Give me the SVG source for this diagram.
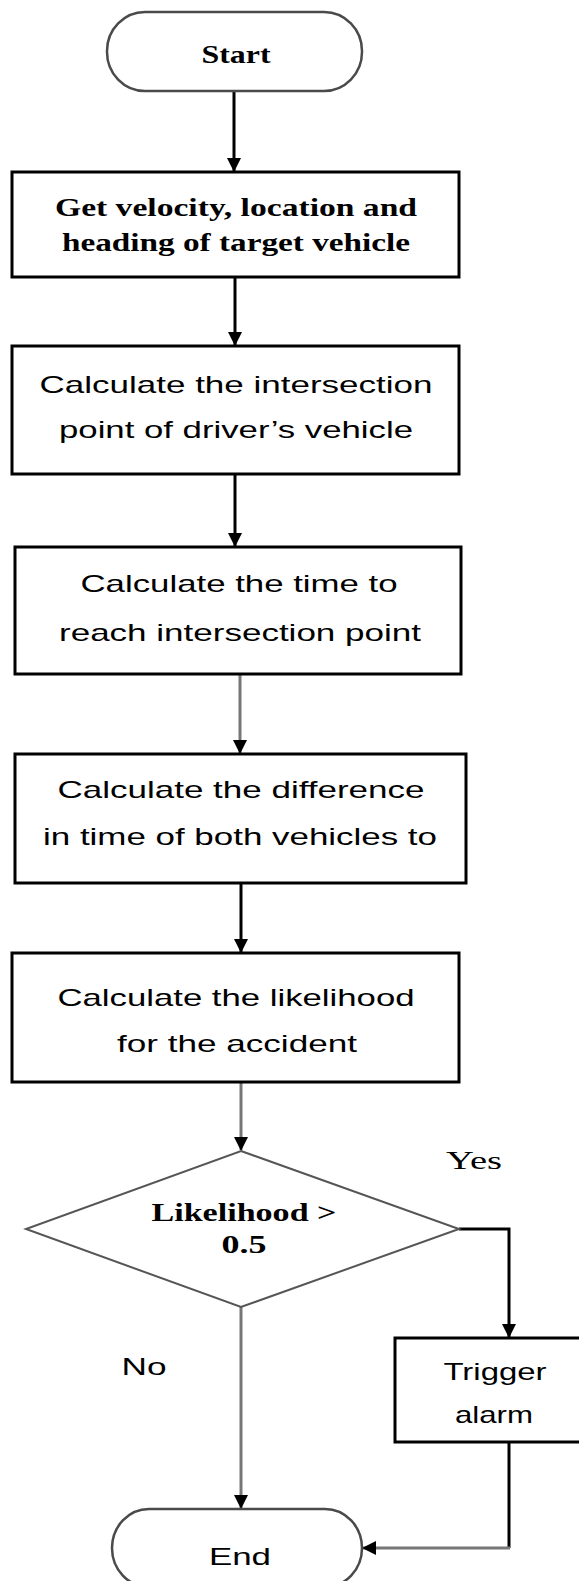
<svg xmlns="http://www.w3.org/2000/svg" width="579" height="1581" viewBox="0 0 579 1581">
<style>
.box{fill:#fff;stroke:#000;stroke-width:3}
.term{fill:#fff;stroke:#4a4a4a;stroke-width:2.5}
.dia{fill:#fff;stroke:#555;stroke-width:2}
.serif{font-family:"Liberation Serif","Times New Roman",serif;font-weight:bold;font-size:25px;fill:#000}
.sans{font-family:"Liberation Sans",Arial,sans-serif;font-size:24px;fill:#000}
.c{fill:none;stroke-width:3}
.k{stroke:#000}
.g{stroke:#777}
</style>
<defs>
<marker id="ah" markerUnits="userSpaceOnUse" markerWidth="14" markerHeight="14" refX="13" refY="7" orient="auto">
<path d="M0,0 L14,7 L0,14 z" fill="#000"/>
</marker>
</defs>
<g id="connectors">
<path class="c k" d="M234,91 V171" marker-end="url(#ah)"/>
<path class="c k" d="M235,277 V345" marker-end="url(#ah)"/>
<path class="c k" d="M235,474 V546" marker-end="url(#ah)"/>
<path class="c g" d="M240,674 V753" marker-end="url(#ah)"/>
<path class="c k" d="M241,883 V952" marker-end="url(#ah)"/>
<path class="c g" d="M241,1082 V1150" marker-end="url(#ah)"/>
<path class="c k" d="M459,1229 H509 V1337" marker-end="url(#ah)"/>
<path class="c g" d="M241,1307 V1508" marker-end="url(#ah)"/>
<path class="c k" d="M509,1442 V1548"/>
<path class="c g" d="M510,1548 H363" marker-end="url(#ah)"/>
</g>
<g id="start">
<rect class="term" x="107" y="12" width="255" height="79" rx="38" ry="39"/>
<text class="serif" x="236" y="63" text-anchor="middle" textLength="69" lengthAdjust="spacingAndGlyphs">Start</text>
</g>
<g id="get-data">
<rect class="box" x="12" y="172" width="447" height="105"/>
<text class="serif" x="236" y="216" text-anchor="middle" textLength="362" lengthAdjust="spacingAndGlyphs">Get velocity, location and</text>
<text class="serif" x="236" y="251" text-anchor="middle" textLength="348" lengthAdjust="spacingAndGlyphs">heading of target vehicle</text>
</g>
<g id="calc-intersection">
<rect class="box" x="12" y="346" width="447" height="128"/>
<text class="sans" x="236" y="393" text-anchor="middle" textLength="393" lengthAdjust="spacingAndGlyphs">Calculate the intersection</text>
<text class="sans" x="236" y="438" text-anchor="middle" textLength="354" lengthAdjust="spacingAndGlyphs">point of driver’s vehicle</text>
</g>
<g id="calc-time">
<rect class="box" x="15" y="547" width="446" height="127"/>
<text class="sans" x="239" y="592" text-anchor="middle" textLength="317" lengthAdjust="spacingAndGlyphs">Calculate the time to</text>
<text class="sans" x="240" y="641" text-anchor="middle" textLength="362" lengthAdjust="spacingAndGlyphs">reach intersection point</text>
</g>
<g id="calc-difference">
<rect class="box" x="15" y="754" width="451" height="129"/>
<text class="sans" x="241" y="798" text-anchor="middle" textLength="367" lengthAdjust="spacingAndGlyphs">Calculate the difference</text>
<text class="sans" x="240" y="845" text-anchor="middle" textLength="394" lengthAdjust="spacingAndGlyphs">in time of both vehicles to</text>
</g>
<g id="calc-likelihood">
<rect class="box" x="12" y="953" width="447" height="129"/>
<text class="sans" x="236" y="1006" text-anchor="middle" textLength="357" lengthAdjust="spacingAndGlyphs">Calculate the likelihood</text>
<text class="sans" x="237" y="1052" text-anchor="middle" textLength="240" lengthAdjust="spacingAndGlyphs">for the accident</text>
</g>
<g id="decision">
<polygon class="dia" points="241,1151 459,1229 241,1307 26,1229"/>
<text class="serif" x="244" y="1221" text-anchor="middle" textLength="185" lengthAdjust="spacingAndGlyphs">Likelihood &gt;</text>
<text class="serif" x="244" y="1253" text-anchor="middle" textLength="45" lengthAdjust="spacingAndGlyphs">0.5</text>
</g>
<g id="labels">
<text class="serif" style="font-weight:normal" x="474" y="1169" text-anchor="middle" textLength="56" lengthAdjust="spacingAndGlyphs">Yes</text>
<text class="sans" x="144" y="1375" text-anchor="middle" textLength="45" lengthAdjust="spacingAndGlyphs">No</text>
</g>
<g id="trigger-alarm">
<rect class="box" x="395" y="1338" width="200" height="104"/>
<text class="sans" x="495" y="1380" text-anchor="middle" textLength="103" lengthAdjust="spacingAndGlyphs">Trigger</text>
<text class="sans" x="494" y="1423" text-anchor="middle" textLength="78" lengthAdjust="spacingAndGlyphs">alarm</text>
</g>
<g id="end">
<rect class="term" x="112" y="1509" width="250" height="78" rx="37" ry="39"/>
<text class="sans" x="240" y="1565" text-anchor="middle" textLength="62" lengthAdjust="spacingAndGlyphs">End</text>
</g>
</svg>
